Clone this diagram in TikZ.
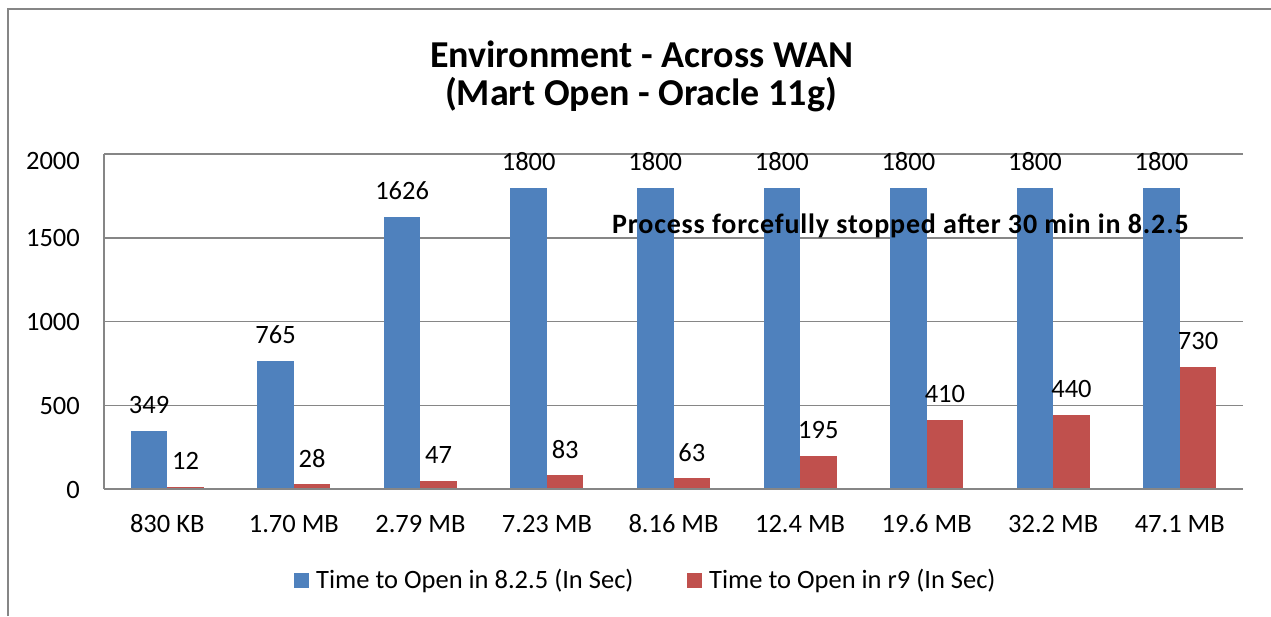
\documentclass[tikz,border=0pt]{standalone}
\usepackage{fontspec}
\setmainfont{Carlito}
\definecolor{serA}{HTML}{4F81BD}
\definecolor{serB}{HTML}{C0504D}
\definecolor{gridc}{RGB}{134,134,134}
\begin{document}
\begin{tikzpicture}[x=1pt,y=-1pt,
  gridline/.style={draw=gridc,line width=1.5pt},
  barA/.style={fill=serA,draw=none},
  barB/.style={fill=serB,draw=none},
  lbl/.style={font=\fontsize{26.5}{30}\selectfont,inner sep=0pt,text=black},
  ttl/.style={font=\fontsize{38}{44}\selectfont\bfseries,inner sep=0pt,align=center},
  note/.style={font=\fontsize{28}{32}\selectfont\bfseries\addfontfeature{LetterSpace=3},inner sep=0pt}]
\useasboundingbox (0,0) rectangle (1271,616);
\fill[white] (0,0) rectangle (1271,616);
% chart frame
\draw[draw=gridc,line width=2pt] (8,616) -- (8,9) -- (1271,9);
% title
\node[ttl,anchor=base] (t1) at (642,67) {Environment - Across WAN};
\node[ttl,anchor=base] (t2) at (641,105) {(Mart Open - Oracle 11g)};
% gridlines
\foreach \v in {0,500,1000,1500,2000}{
  \draw[gridline] (104,{489-\v*0.1675}) -- (1243,{489-\v*0.1675});
}
\draw[gridline] (104,154) -- (104,489);
% y labels
\node[lbl,anchor=base east] (y2000) at (80,169) {2000};
\node[lbl,anchor=base east] (y1500) at (80,246) {1500};
\node[lbl,anchor=base east] (y1000) at (80,330) {1000};
\node[lbl,anchor=base east] (y500) at (80,414) {500};
\node[lbl,anchor=base east] (y0) at (80,498) {0};
% bars
\foreach \i/\a/\b/\c in {0/349/12/830 KB,1/765/28/1.70 MB,2/1626/47/2.79 MB,3/1800/83/7.23 MB,4/1800/63/8.16 MB,5/1800/195/12.4 MB,6/1800/410/19.6 MB,7/1800/440/32.2 MB,8/1800/730/47.1 MB}{
  \pgfmathsetmacro{\cx}{104+126.56*(\i+0.5)}
  \pgfmathsetmacro{\ta}{489-\a*0.1675}
  \pgfmathsetmacro{\tb}{489-\b*0.1675}
  \fill[barA] ({\cx-36.5},489) rectangle (\cx,\ta);
  \fill[barB] (\cx,489) rectangle ({\cx+36.5},\tb);
  \node[lbl] (la\i) at ({\cx-18.25},{\ta-26}) {\a};
  \node[lbl] (lb\i) at ({\cx+18.25},{\tb-26}) {\b};
  \node[lbl,anchor=base] (cat\i) at (\cx,532) {\c};
}
\draw[gridline] (104,489) -- (1243,489);
% annotation
\node[note,anchor=base west] (note) at (612,233) {Process forcefully stopped after 30 min in 8.2.5};
% legend
\fill[serA] (294,573) rectangle (309,588);
\node[lbl,anchor=base west] (legA) at (316,588) {Time to Open in 8.2.5 (In Sec)};
\fill[serB] (687,573) rectangle (702,588);
\node[lbl,anchor=base west] (legB) at (709,588) {Time to Open in r9 (In Sec)};
\end{tikzpicture}
\end{document}
